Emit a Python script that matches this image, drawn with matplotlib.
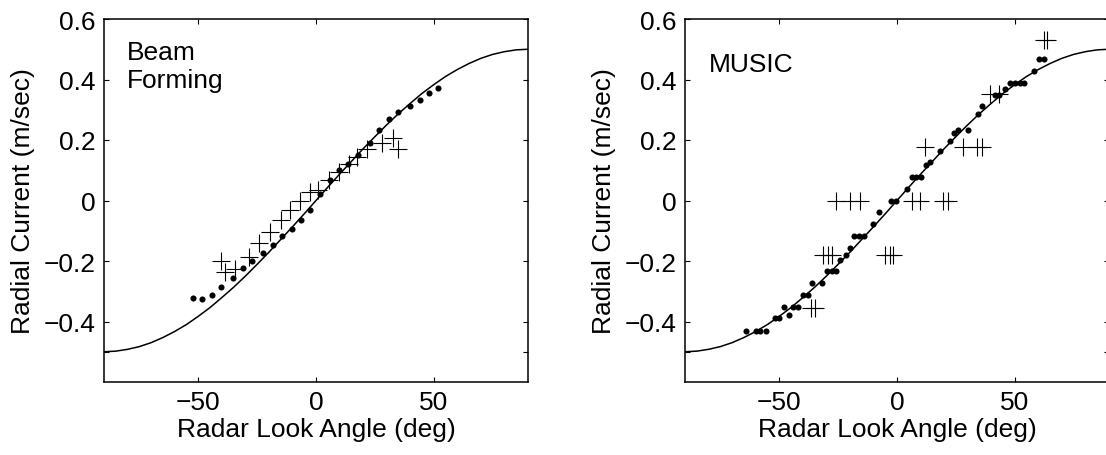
import matplotlib
matplotlib.use("Agg")
import matplotlib.pyplot as plt

plt.rcParams['font.family'] = ['Liberation Sans', 'DejaVu Sans']

# Model curve (radial current vs look angle)
model_angle = [-90, -85, -80, -75, -70, -65, -60, -55, -50, -45, -40, -35, -30, -25, -20, -15, -10, -5,
               0, 5, 10, 15, 20, 25, 30, 35, 40, 45, 50, 55, 60, 65, 70, 75, 80, 85, 90]
model_current = [-0.500, -0.498, -0.492, -0.483, -0.470, -0.453, -0.433, -0.410, -0.383, -0.354,
                 -0.321, -0.287, -0.250, -0.211, -0.171, -0.129, -0.087, -0.044,
                 0.000, 0.044, 0.087, 0.129, 0.171, 0.211, 0.250, 0.287, 0.321, 0.354, 0.383,
                 0.410, 0.433, 0.453, 0.470, 0.483, 0.492, 0.498, 0.500]

# Beam Forming panel
bf_dot_angle = [-52.2, -48.2, -44.3, -40.3, -35.2, -31.2, -27.2, -22.3, -18.3, -14.3, -10.3, -6.2, -2.4,
                1.7, 5.8, 9.8, 13.5, 17.7, 22.8, 26.9, 30.9, 34.9, 39.9, 44.0, 47.9, 51.9]
bf_dot_current = [-0.323, -0.327, -0.313, -0.286, -0.255, -0.224, -0.200, -0.175, -0.148, -0.119,
                  -0.093, -0.066, -0.030, 0.022, 0.067, 0.101, 0.122, 0.150, 0.189, 0.232, 0.268,
                  0.292, 0.313, 0.332, 0.354, 0.372]
bf_plus_angle = [-40.3, -38.7, -34.2, -28.5, -24.0, -19.5, -15.0, -11.0, -6.8, -2.6, 0.8, 5.5, 9.8,
                 14.0, 17.6, 21.8, 28.2, 32.5, 34.6]
bf_plus_current = [-0.199, -0.238, -0.227, -0.188, -0.140, -0.103, -0.065, -0.033, -0.001, 0.027,
                   0.036, 0.068, 0.095, 0.122, 0.145, 0.169, 0.191, 0.208, 0.171]

# MUSIC panel
mu_dot_angle = [-64.0, -60.0, -58.0, -55.7, -51.9, -50.1, -48.0, -45.9, -44.1, -42.0, -39.9, -37.7,
                -36.0, -32.0, -29.9, -27.8, -25.7, -24.0, -21.8, -20.0, -18.3, -16.2, -14.0, -10.1,
                -7.5, -2.4, -0.3, 4.1, 6.3, 8.1, 10.1, 12.2, 14.0, 18.3, 22.3, 24.3, 26.1, 30.1, 34.2,
                36.2, 41.7, 43.5, 46.0, 48.1, 50.1, 52.1, 54.0, 58.0, 60.1, 62.3]
mu_dot_current = [-0.43, -0.43, -0.43, -0.43, -0.39, -0.39, -0.352, -0.378, -0.352, -0.352, -0.312,
                  -0.312, -0.273, -0.273, -0.232, -0.232, -0.232, -0.196, -0.179, -0.157, -0.118,
                  -0.118, -0.118, -0.077, -0.039, 0.0, 0.0, 0.039, 0.078, 0.078, 0.078, 0.117, 0.127,
                  0.164, 0.196, 0.222, 0.233, 0.233, 0.285, 0.311, 0.348, 0.348, 0.37, 0.39, 0.39,
                  0.39, 0.39, 0.429, 0.468, 0.468]
mu_plus_angle = [-36.3, -34.9, -31.3, -29.2, -27.8, -26.0, -20.0, -15.7, -5.1, -3.0, -1.6, 6.2, 9.8,
                 11.9, 19.7, 21.8, 28.0, 33.9, 36.0, 39.6, 43.1, 62.3, 63.7]
mu_plus_current = [-0.354, -0.354, -0.179, -0.179, -0.179, 0.0, 0.0, 0.0, -0.179, -0.179, -0.179,
                   0.0, 0.0, 0.177, 0.0, 0.0, 0.177, 0.177, 0.177, 0.352, 0.352, 0.53, 0.53]

x_ticks = [-50, 0, 50]
y_ticks = [-0.5, -0.4, -0.2, 0, 0.2, 0.4, 0.6]
y_tick_labels = ['', '\u22120.4', '\u22120.2', '0', '0.2', '0.4', '0.6']
x_tick_labels = ['\u221250', '0', '50']

W, H = 1106, 456
fig = plt.figure(figsize=(W / 100, H / 100), dpi=100)

panels = [
    (104, 'Beam\nForming', bf_dot_angle, bf_dot_current, bf_plus_angle, bf_plus_current, (-80.4, 0.53)),
    (685, 'MUSIC', mu_dot_angle, mu_dot_current, mu_plus_angle, mu_plus_current, (-80.0, 0.49)),
]
for left_px, title, da, dc, pa, pc, tpos in panels:
    ax = fig.add_axes([left_px / W, (H - 383) / H, 424 / W, 363 / H])
    ax.plot(model_angle, model_current, color='black', lw=1.1)
    ax.plot(da, dc, 'o', color='black', ms=4.4, mew=0)
    ax.plot(pa, pc, '+', color='black', ms=13, mew=0.8)
    ax.set_xlim(-90, 90)
    ax.set_ylim(-0.6, 0.6)
    ax.set_xticks(x_ticks)
    ax.set_xticklabels(x_tick_labels)
    ax.set_yticks(y_ticks)
    ax.set_yticklabels(y_tick_labels)
    ax.tick_params(direction='in', length=3.5, width=0.8, labelsize=19, top=True, right=True, pad=6)
    for s in ax.spines.values():
        s.set_linewidth(1.1)
    ax.set_xlabel('Radar Look Angle (deg)', fontsize=19, labelpad=2)
    ax.set_ylabel('Radial Current (m/sec)', fontsize=19, labelpad=6)
    ax.text(tpos[0], tpos[1], title, fontsize=19, va='top', ha='left', linespacing=1.2)

fig.savefig('out.png', dpi=100)
